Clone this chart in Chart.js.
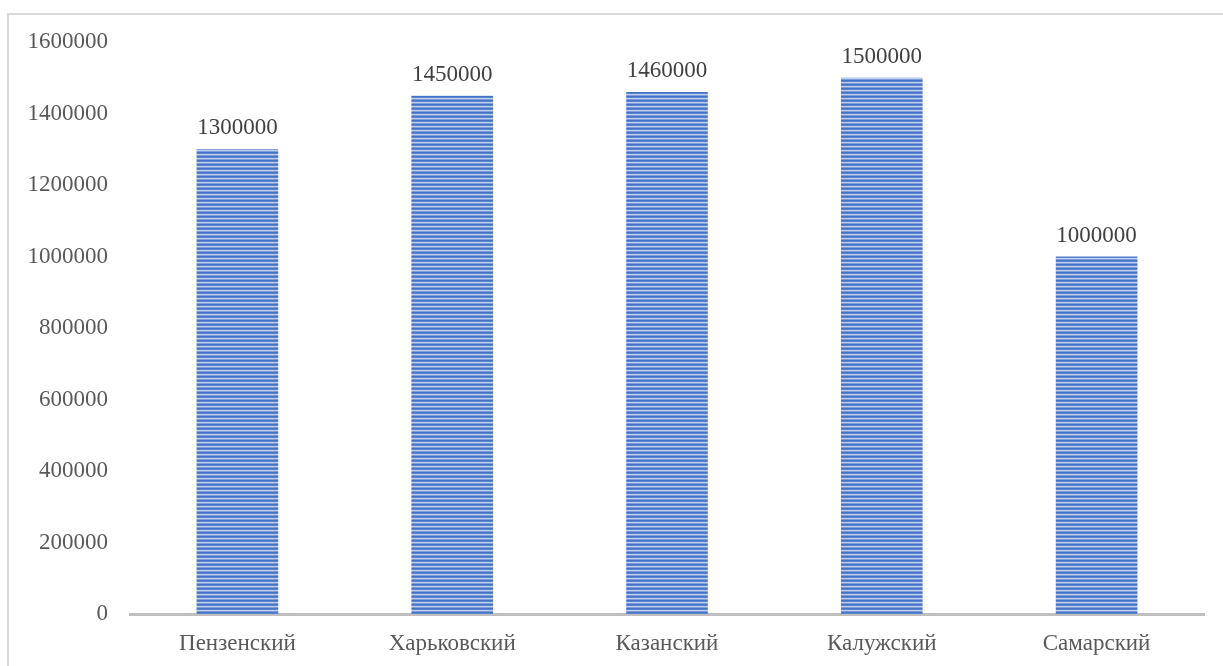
<!DOCTYPE html>
<html>
<head>
<meta charset="utf-8">
<script src="https://cdn.jsdelivr.net/npm/chart.js@4.4.1/dist/chart.umd.min.js"></script>
<style>
  html, body { margin: 0; padding: 0; background: #ffffff; }
  #wrap { position: relative; width: 1223px; height: 666px; overflow: hidden; }
  #frame { position: absolute; left: 7px; top: 13px; width: 1230px; height: 700px;
           border-left: 2px solid #d9d9d9; border-top: 2px solid #d9d9d9; box-sizing: border-box; }
  canvas { position: absolute; left: 0; top: 0; }
</style>
</head>
<body>
<div id="wrap">
  <div id="frame"></div>
  <canvas id="c" width="1223" height="666"></canvas>
</div>
<script>
const categories = ["Пензенский", "Харьковский", "Казанский", "Калужский", "Самарский"];
const values = [1300000, 1450000, 1460000, 1500000, 1000000];
const yTicks = [0, 200000, 400000, 600000, 800000, 1000000, 1200000, 1400000, 1600000];

function makeStripePattern() {
  const p = document.createElement('canvas');
  p.width = 8; p.height = 4;
  const g = p.getContext('2d');
  const rows = ['#4472c4', '#5b85d0', '#bccdee', '#7f9dd9'];
  rows.forEach((col, i) => { g.fillStyle = col; g.fillRect(0, i, 8, 1); });
  return document.getElementById('c').getContext('2d').createPattern(p, 'repeat');
}

const FONT = '"Liberation Serif", "Times New Roman", serif';

const dataLabels = {
  id: 'dataLabels',
  afterDatasetsDraw(chart) {
    const ctx = chart.ctx;
    const meta = chart.getDatasetMeta(0);
    ctx.save();
    ctx.font = '23px ' + FONT;
    ctx.fillStyle = '#404040';
    ctx.textAlign = 'center';
    ctx.textBaseline = 'middle';
    meta.data.forEach((bar, i) => {
      ctx.fillText(String(chart.data.datasets[0].data[i]), bar.x, bar.y - 21);
    });
    ctx.restore();
  }
};

new Chart(document.getElementById('c'), {
  type: 'bar',
  data: {
    labels: categories,
    datasets: [{
      data: values,
      backgroundColor: makeStripePattern(),
      borderWidth: 0,
      barPercentage: 0.76,
      categoryPercentage: 0.5
    }]
  },
  options: {
    responsive: false,
    animation: false,
    devicePixelRatio: 1,
    layout: { padding: { top: 42, right: 19, bottom: 0, left: 0 } },
    plugins: { legend: { display: false }, tooltip: { enabled: false } },
    scales: {
      x: {
        afterFit(scale) { scale.height = 52; },
        grid: { display: false, drawTicks: false },
        border: { display: true, color: '#bfbfbf', width: 3 },
        ticks: {
          color: '#595959',
          font: { family: FONT, size: 23 },
          padding: 16
        }
      },
      y: {
        min: 0, max: 1600000,
        afterBuildTicks(scale) { scale.ticks = yTicks.map(v => ({ value: v })); },
        afterFit(scale) { scale.width = 130; },
        grid: { display: false, drawTicks: false },
        border: { display: false },
        ticks: {
          color: '#595959',
          font: { family: FONT, size: 23 },
          padding: 22,
          callback: v => String(v)
        }
      }
    }
  },
  plugins: [dataLabels]
});
</script>
</body>
</html>
